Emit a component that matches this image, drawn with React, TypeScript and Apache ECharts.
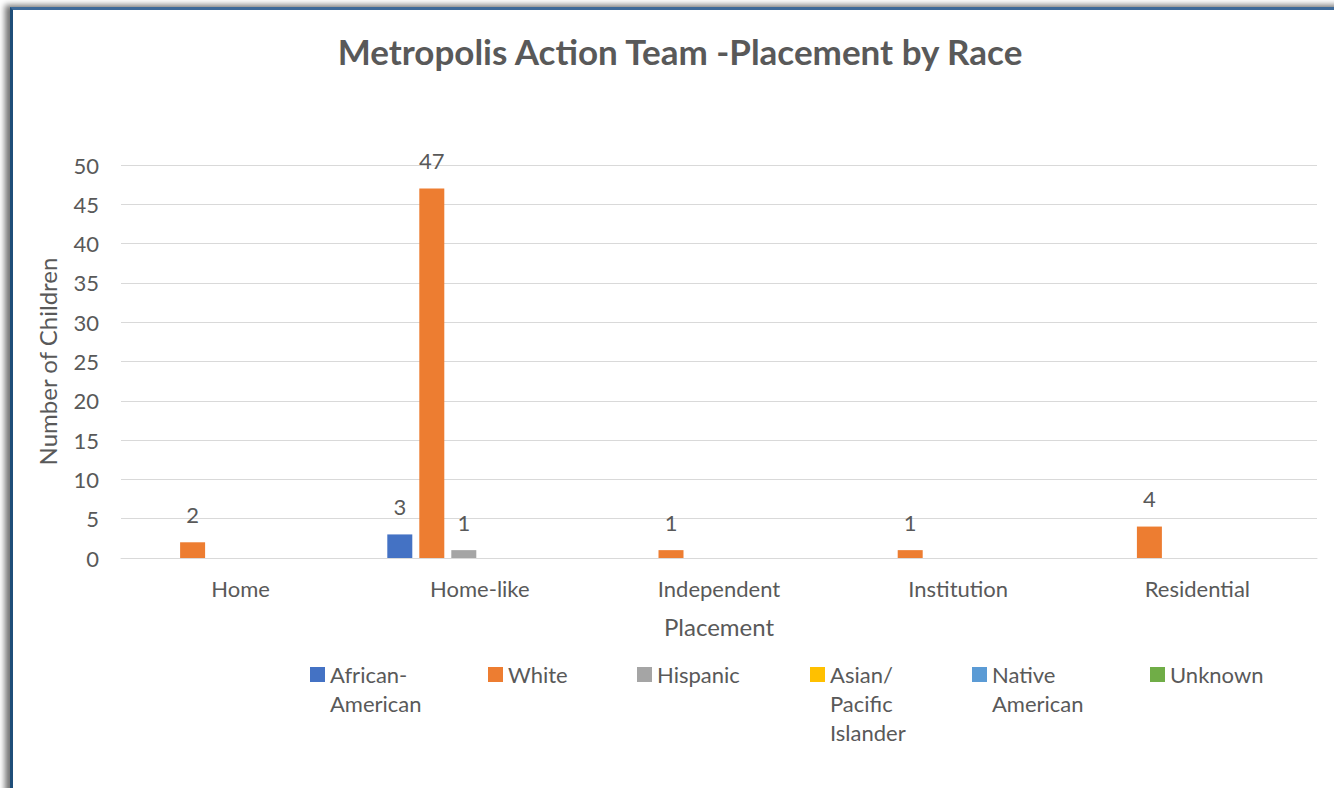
import React, { useEffect, useRef } from "react";
import * as echarts from "echarts";

const titleText = "Metropolis Action Team -Placement by Race";
const categories = ["Home", "Home-like", "Independent", "Institution", "Residential"];
const seriesNames = ["African-American", "White", "Hispanic", "Asian/Pacific Islander", "Native American", "Unknown"];
const legendLabels = ["African-\nAmerican", "White", "Hispanic", "Asian/\nPacific\nIslander", "Native\nAmerican", "Unknown"];
const africanAmerican = [0, 3, 0, 0, 0];
const white = [2, 47, 1, 1, 4];
const hispanic = [0, 1, 0, 0, 0];
const asianPacific = [0, 0, 0, 0, 0];
const nativeAmerican = [0, 0, 0, 0, 0];
const unknown = [0, 0, 0, 0, 0];
const seriesData = [africanAmerican, white, hispanic, asianPacific, nativeAmerican, unknown];
const colors = ["#4472C4", "#ED7D31", "#A5A5A5", "#FFC000", "#5B9BD5", "#70AD47"];
const legendLefts = [310, 488, 637, 810, 972, 1150];

const FONT = "Lato, 'Open Sans', sans-serif";
const GREY = "#595959";

export default function App() {
  const ref = useRef<HTMLDivElement>(null);
  useEffect(() => {
    if (!ref.current) return;
    const chart = echarts.init(ref.current, null, { renderer: "svg" });
    const lineH = 29;
    const sq = 15;
    chart.setOption({
      animation: false,
      backgroundColor: "transparent",
      color: colors,
      textStyle: { fontFamily: FONT, color: GREY },
      title: {
        text: titleText,
        left: 675,
        top: 28,
        textAlign: "center",
        textStyle: { fontFamily: FONT, fontSize: 35, fontWeight: "bold", color: GREY },
      },
      grid: { left: 121, right: 17, top: 165, bottom: 230, containLabel: false },
      xAxis: {
        type: "category",
        data: categories,
        name: "Placement",
        nameLocation: "middle",
        nameGap: 56,
        nameTextStyle: { fontFamily: FONT, fontSize: 24, color: GREY },
        axisLine: { show: true, lineStyle: { color: "#d9d9d9", width: 1 } },
        axisTick: { show: false },
        axisLabel: { fontFamily: FONT, fontSize: 22, color: GREY, margin: 19 },
      },
      yAxis: {
        type: "value",
        min: 0,
        max: 50,
        interval: 5,
        name: "Number of Children",
        nameLocation: "middle",
        nameGap: 62,
        nameTextStyle: { fontFamily: FONT, fontSize: 24, color: GREY },
        axisLine: { show: false },
        axisTick: { show: false },
        axisLabel: { fontFamily: FONT, fontSize: 22, color: GREY, margin: 22 },
        splitLine: { lineStyle: { color: "#d9d9d9", width: 1 } },
      },
      legend: seriesNames.map((name, i) => {
        const lines = legendLabels[i].split("\n").length;
        const h = sq + (lines - 1) * lineH;
        return {
          data: [name],
          left: legendLefts[i] - 5,
          top: 655,
          orient: "horizontal",
          itemWidth: sq,
          itemHeight: h,
          icon: `path://M0 0 L${sq} 0 L${sq} ${sq} L0 ${sq} Z M0 ${h}`,
          selectedMode: false,
          formatter: () => legendLabels[i],
          textStyle: {
            fontFamily: FONT,
            fontSize: 22,
            color: GREY,
            lineHeight: lineH,
          },
        };
      }),
      series: seriesNames.map((name, i) => ({
        name,
        type: "bar",
        data: seriesData[i],
        barWidth: 25,
        barGap: "28%",
        itemStyle: { color: colors[i] },
        label: {
          show: true,
          position: "top",
          distance: 17,
          fontFamily: FONT,
          fontSize: 22,
          color: GREY,
          formatter: (p: any) => (p.value ? String(p.value) : ""),
        },
      })),
    });
    return () => chart.dispose();
  }, []);

  return (
    <div style={{ position: "fixed", left: 0, top: 0, width: 1334, height: 788, background: "#fff", overflow: "hidden" }}>
      <div
        style={{
          position: "absolute",
          left: 10,
          top: 7,
          width: 1400,
          height: 900,
          borderLeft: "3px solid #1F4E79",
          borderTop: "3px solid #3E6A99",
          boxShadow: "-5px -2px 6px rgba(0,0,0,0.55)",
          background: "#fff",
        }}
      />
      <div ref={ref} style={{ position: "absolute", left: 0, top: 0, width: 1334, height: 788 }} />
    </div>
  );
}
